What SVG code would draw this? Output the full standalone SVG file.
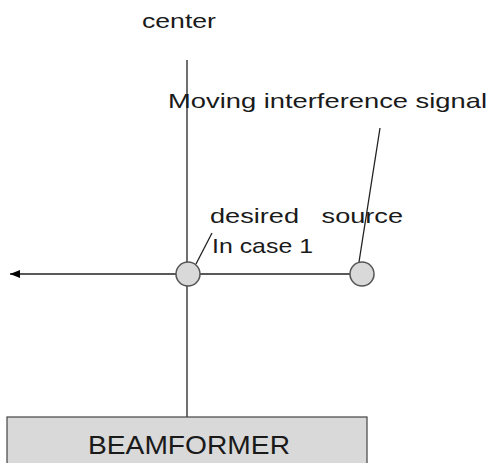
<svg xmlns="http://www.w3.org/2000/svg" width="489" height="463" viewBox="0 0 489 463">
<style>
.t{font-family:"Liberation Sans",Arial,sans-serif;fill:#1a1a1a;white-space:pre;}
.ln{stroke:#222;stroke-width:1.3;fill:none;}
.nd{fill:#d9d9d9;stroke:#555;stroke-width:1.5;}
</style>
<defs>
<marker id="ah" markerWidth="10" markerHeight="8" refX="10" refY="4" orient="auto" markerUnits="userSpaceOnUse">
<path d="M0,0 L10,4 L0,8 Z" fill="#000"/>
</marker>
</defs>
<rect width="489" height="463" fill="#fff"/>
<g id="connectors">
<line class="ln" x1="187" y1="60" x2="187" y2="417"/>
<line class="ln" x1="362" y1="274" x2="10" y2="274" marker-end="url(#ah)"/>
<line class="ln" x1="196" y1="264" x2="212" y2="233"/>
<line class="ln" x1="359" y1="262" x2="380" y2="128"/>
</g>
<g id="beamformer">
<rect x="7" y="417" width="360" height="60" fill="#d9d9d9" stroke="#444" stroke-width="1.2"/>
<text class="t" x="88" y="454" font-size="25" textLength="202" lengthAdjust="spacingAndGlyphs">BEAMFORMER</text>
</g>
<g id="desired">
<circle class="nd" cx="188" cy="274" r="12"/>
</g>
<g id="interference">
<circle class="nd" cx="362" cy="274" r="12"/>
</g>
<g id="labels">
<text class="t" x="142" y="28" font-size="21" textLength="74" lengthAdjust="spacingAndGlyphs">center</text>
<text class="t" x="168" y="108" font-size="21" textLength="319" lengthAdjust="spacingAndGlyphs">Moving interference signal</text>
<text class="t" x="210" y="223" font-size="21" textLength="193" lengthAdjust="spacingAndGlyphs" xml:space="preserve">desired   source</text>
<text class="t" x="212" y="253" font-size="21" textLength="101" lengthAdjust="spacingAndGlyphs">In case 1</text>
</g>
</svg>
